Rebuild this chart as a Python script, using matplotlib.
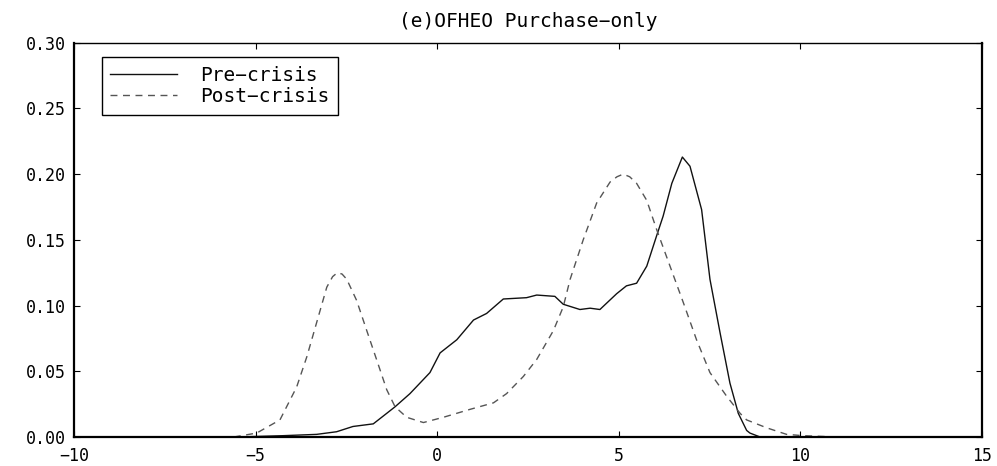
import matplotlib
matplotlib.use("Agg")
import matplotlib.pyplot as plt

# Pre-crisis density (solid)
pre_x = [-10.0, -5.5, -4.25, -3.32, -2.77, -2.32, -1.76, -1.39, -1.16, -0.75, -0.20,
         0.08, 0.54, 1.00, 1.36, 1.82, 2.46, 2.74, 3.24, 3.47, 3.93, 4.21, 4.48,
         4.94, 5.21, 5.49, 5.77, 6.04, 6.22, 6.46, 6.75, 6.96, 7.28, 7.51, 7.79,
         8.06, 8.29, 8.52, 8.61, 8.89, 10.0, 11.0, 12.0]
pre_y = [0.0, 0.0, 0.001, 0.002, 0.004, 0.008, 0.010, 0.018, 0.023, 0.033, 0.049,
         0.064, 0.074, 0.089, 0.094, 0.105, 0.106, 0.108, 0.107, 0.101, 0.097, 0.098, 0.097,
         0.109, 0.115, 0.117, 0.130, 0.153, 0.168, 0.193, 0.213, 0.206, 0.173, 0.120, 0.079,
         0.041, 0.018, 0.005, 0.003, 0.0, 0.0, 0.0, 0.0]

# Post-crisis density (dashed)
post_x = [-5.6, -4.97, -4.33, -3.87, -3.59, -3.32, -3.04, -2.88, -2.75, -2.62, -2.49, -2.22, -1.94,
          -1.67, -1.39, -1.16, -0.84, -0.38, 0.17, 0.90, 1.55, 1.91, 2.37, 2.74,
          3.20, 3.47, 3.66, 4.02, 4.39, 4.76, 4.95, 5.12, 5.30, 5.49, 5.77, 6.04, 6.41, 6.78,
          7.14, 7.51, 7.97, 8.34, 8.52, 9.07, 9.62, 10.08, 11.0, 12.0]
post_y = [0.0, 0.003, 0.013, 0.038, 0.061, 0.087, 0.114, 0.122, 0.125, 0.124, 0.120, 0.104, 0.081,
          0.059, 0.036, 0.023, 0.015, 0.011, 0.015, 0.021, 0.026, 0.033, 0.046, 0.059,
          0.081, 0.099, 0.120, 0.150, 0.178, 0.194, 0.198, 0.200, 0.198, 0.193, 0.180, 0.158, 0.130, 0.102,
          0.074, 0.049, 0.031, 0.018, 0.013, 0.007, 0.002, 0.001, 0.0, 0.0]

x_ticks = [-10, -5, 0, 5, 10, 15]
y_ticks = [0.00, 0.05, 0.10, 0.15, 0.20, 0.25, 0.30]

plt.rcParams["font.family"] = "DejaVu Sans Mono"

fig = plt.figure(figsize=(9.97, 4.66), dpi=100)
ax = fig.add_axes([74 / 997, 1 - 437 / 466, 908 / 997, 394.3 / 466])

ax.plot(pre_x, pre_y, color="#111111", lw=1.0, label="Pre\u2212crisis")
ax.plot(post_x, post_y, color="#555555", lw=1.0, ls=(0, (5, 4)), label="Post\u2212crisis")

ax.set_xlim(-10, 15)
ax.set_ylim(0, 0.30)
ax.set_xticks(x_ticks)
ax.set_xticklabels(["\u221210", "\u22125", "0", "5", "10", "15"])
ax.set_yticks(y_ticks)
ax.set_yticklabels([f"{v:.2f}" for v in y_ticks])
ax.tick_params(direction="in", length=4, top=True, right=True, labelsize=12,
               colors="black", pad=6)
ax.tick_params(axis="x", pad=7)

for side in ["left", "bottom", "right"]:
    ax.spines[side].set_linewidth(1.6)
ax.spines["top"].set_linewidth(1.0)

ax.set_title("(e)OFHEO Purchase\u2212only", fontsize=14, pad=11)

leg = ax.legend(loc="upper left", bbox_to_anchor=(0.0305, 0.963), borderaxespad=0,
                fancybox=False, edgecolor="black", fontsize=14, handlelength=3.4,
                handletextpad=1.2, borderpad=0.45, labelspacing=0.1, framealpha=1)
leg.get_frame().set_linewidth(1.0)

fig.savefig("out.png", dpi=100)
